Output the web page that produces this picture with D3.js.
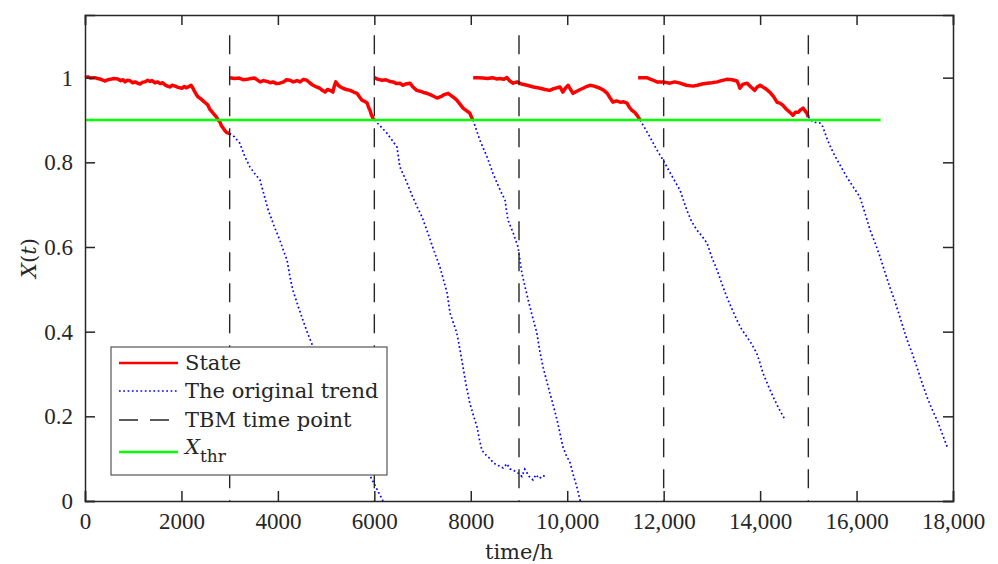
<!DOCTYPE html>
<html>
<head>
<meta charset="utf-8">
<script src="https://cdn.jsdelivr.net/npm/d3@7"></script>
<style>
  body { margin: 0; background: #fff; }
  svg text { fill: #262626; font-family: "Liberation Serif", "Times New Roman", serif; }
</style>
</head>
<body>
<div id="chart"></div>
<script>
// state segments (time in h, X(t))
const state1 = [[0,1.0],[60,1.002],[120,0.999],[200,1.0],[260,0.998],[310,0.997],[370,0.994],[420,0.992],[470,0.995],[520,0.996],[600,0.998],[680,0.997],[740,0.993],[790,0.995],[830,0.99],[880,0.994],[930,0.993],[990,0.988],[1040,0.99],[1090,0.987],[1140,0.985],[1190,0.989],[1240,0.99],[1300,0.994],[1350,0.991],[1390,0.993],[1450,0.988],[1510,0.99],[1560,0.986],[1610,0.988],[1660,0.983],[1710,0.98],[1760,0.978],[1810,0.982],[1870,0.98],[1930,0.977],[2010,0.975],[2060,0.979],[2100,0.976],[2140,0.978],[2200,0.982],[2230,0.977],[2260,0.97],[2300,0.962],[2340,0.955],[2390,0.951],[2450,0.945],[2500,0.94],[2550,0.935],[2590,0.925],[2630,0.92],[2680,0.913],[2720,0.908],[2760,0.9],[2800,0.895],[2830,0.886],[2860,0.882],[2900,0.875],[2940,0.87],[3000,0.868]];
const state2 = [[3000,1.0],[3100,0.998],[3200,0.999],[3280,0.995],[3360,0.996],[3440,0.998],[3520,0.999],[3580,0.994],[3630,0.99],[3700,0.993],[3780,0.991],[3840,0.988],[3900,0.99],[3970,0.986],[4040,0.987],[4120,0.99],[4180,0.995],[4250,0.994],[4320,0.99],[4400,0.993],[4460,0.99],[4530,0.996],[4600,0.994],[4660,0.988],[4730,0.982],[4800,0.978],[4870,0.975],[4920,0.97],[4980,0.966],[5030,0.972],[5080,0.97],[5140,0.966],[5170,0.98],[5200,0.99],[5230,0.986],[5250,0.982],[5300,0.978],[5350,0.975],[5420,0.972],[5500,0.97],[5570,0.966],[5640,0.963],[5690,0.955],[5740,0.947],[5800,0.944],[5850,0.94],[5880,0.93],[5910,0.923],[5940,0.912],[5970,0.904],[6000,0.9]];
const state3 = [[6000,1.0],[6080,0.996],[6160,0.994],[6240,0.995],[6320,0.991],[6390,0.99],[6460,0.986],[6530,0.987],[6590,0.982],[6650,0.985],[6740,0.987],[6800,0.978],[6880,0.97],[6950,0.968],[7020,0.965],[7090,0.963],[7160,0.96],[7230,0.956],[7300,0.952],[7380,0.955],[7450,0.96],[7530,0.963],[7600,0.957],[7660,0.952],[7710,0.947],[7780,0.937],[7840,0.928],[7910,0.922],[7980,0.916],[8010,0.908],[8040,0.9]];
const state4 = [[8050,1.0],[8150,1.0],[8250,0.999],[8350,0.998],[8450,1.0],[8530,0.997],[8610,0.998],[8680,0.996],[8750,1.0],[8810,0.992],[8880,0.987],[8960,0.99],[9050,0.985],[9170,0.982],[9300,0.978],[9440,0.975],[9540,0.972],[9640,0.97],[9720,0.974],[9850,0.978],[9910,0.966],[9960,0.975],[10020,0.982],[10070,0.972],[10120,0.963],[10200,0.968],[10270,0.972],[10330,0.975],[10400,0.979],[10470,0.982],[10560,0.98],[10680,0.975],[10760,0.97],[10830,0.963],[10890,0.952],[10950,0.942],[11020,0.945],[11100,0.942],[11170,0.943],[11240,0.94],[11290,0.93],[11340,0.923],[11400,0.918],[11450,0.911],[11510,0.9]];
const state5 = [[11470,1.0],[11560,1.0],[11650,1.0],[11760,0.995],[11860,0.99],[11990,0.99],[12130,0.987],[12230,0.99],[12340,0.987],[12470,0.982],[12610,0.98],[12700,0.982],[12800,0.985],[12900,0.987],[13000,0.988],[13110,0.99],[13200,0.993],[13310,0.996],[13420,0.995],[13520,0.992],[13550,0.985],[13580,0.975],[13640,0.984],[13730,0.987],[13810,0.978],[13890,0.97],[13940,0.978],[14000,0.982],[14100,0.975],[14200,0.966],[14280,0.955],[14350,0.942],[14410,0.94],[14470,0.935],[14540,0.926],[14620,0.918],[14680,0.911],[14730,0.918],[14790,0.918],[14840,0.924],[14890,0.928],[14930,0.922],[14970,0.916],[15000,0.907]];

// original trend after each state segment
const trend1 = [[3000,0.868],[3100,0.86],[3210,0.845],[3310,0.815],[3420,0.789],[3530,0.772],[3630,0.758],[3720,0.72],[3800,0.687],[3920,0.65],[4040,0.616],[4120,0.59],[4190,0.569],[4250,0.53],[4310,0.498],[4420,0.46],[4520,0.427],[4620,0.395],[4730,0.364],[5080,0.286],[5500,0.168],[5910,0.06],[6180,0]];
const trend2 = [[6000,0.9],[6130,0.885],[6260,0.869],[6370,0.852],[6470,0.836],[6530,0.789],[6680,0.751],[6790,0.72],[6890,0.694],[6990,0.671],[7110,0.633],[7240,0.59],[7360,0.553],[7440,0.52],[7510,0.491],[7570,0.444],[7710,0.397],[7780,0.355],[7840,0.316],[7910,0.27],[7980,0.231],[8060,0.2],[8130,0.175],[8180,0.145],[8230,0.12],[8320,0.108],[8400,0.1],[8470,0.09],[8540,0.085],[8610,0.082],[8670,0.078],[8750,0.088],[8810,0.076],[8890,0.072],[8960,0.068],[9060,0.058],[9120,0.075],[9210,0.058],[9290,0.05],[9350,0.062],[9420,0.053],[9500,0.06],[9580,0.055]];
const trend3 = [[8046,0.9],[8190,0.852],[8340,0.812],[8460,0.774],[8610,0.734],[8710,0.711],[8770,0.664],[8880,0.633],[8980,0.6],[9060,0.538],[9190,0.475],[9280,0.435],[9370,0.397],[9430,0.355],[9500,0.316],[9570,0.285],[9640,0.255],[9720,0.222],[9790,0.191],[9850,0.16],[9910,0.128],[9980,0.108],[10060,0.09],[10130,0.06],[10200,0.033],[10270,0]];
const trend4 = [[11510,0.9],[11690,0.865],[11860,0.829],[11990,0.805],[12160,0.77],[12340,0.734],[12480,0.687],[12580,0.66],[12690,0.64],[12800,0.625],[12900,0.609],[13000,0.575],[13110,0.545],[13210,0.512],[13310,0.482],[13410,0.455],[13520,0.427],[13620,0.405],[13730,0.387],[13830,0.37],[13930,0.349],[14000,0.325],[14060,0.302],[14170,0.272],[14270,0.246],[14390,0.218],[14520,0.191]];
const trend5 = [[15000,0.907],[15100,0.895],[15240,0.893],[15300,0.884],[15400,0.852],[15510,0.824],[15650,0.795],[15800,0.765],[15930,0.742],[16070,0.718],[16180,0.678],[16280,0.64],[16390,0.608],[16490,0.576],[16590,0.54],[16690,0.505],[16800,0.47],[16900,0.434],[16980,0.405],[17050,0.38],[17150,0.35],[17250,0.317],[17350,0.282],[17460,0.246],[17560,0.218],[17670,0.191],[17780,0.158],[17880,0.128]];

const tbmTimes = [3000, 6000, 9000, 12000, 15000];
const tbmTop = 1.1;
const threshold = 0.9;
const thresholdEnd = 16500;

const xTicks = [0, 2000, 4000, 6000, 8000, 10000, 12000, 14000, 16000, 18000];
const yTicks = [0, 0.2, 0.4, 0.6, 0.8, 1];
const legendLabels = ["State", "The original trend", "TBM time point", "X"];

const width = 998, height = 564;
const margin = {left: 85, right: 45, top: 15, bottom: 63};
const serif = "'Liberation Serif', 'Times New Roman', serif";
const wideSerif = "'DejaVu Serif', serif";

const x = d3.scaleLinear().domain([0, 18000]).range([margin.left, width - margin.right]);
const y = d3.scaleLinear().domain([0, 1.148]).range([height - margin.bottom, margin.top]);

const svg = d3.select("#chart").append("svg")
  .attr("width", width)
  .attr("height", height);

const line = d3.line().x(d => x(d[0])).y(d => y(d[1]));

const plot = svg.append("g");

// red state lines
plot.append("g")
  .selectAll("path")
  .data([state1, state2, state3, state4, state5])
  .join("path")
  .attr("fill", "none")
  .attr("stroke", "#ff0000")
  .attr("stroke-width", 3.5)
  .attr("stroke-linejoin", "round")
  .attr("d", line);

// blue dotted trends
plot.append("g")
  .selectAll("path")
  .data([trend1, trend2, trend3, trend4, trend5])
  .join("path")
  .attr("fill", "none")
  .attr("stroke", "#0000ff")
  .attr("stroke-width", 1.7)
  .attr("stroke-dasharray", "1.7,2.6")
  .attr("d", line);

// TBM time points
plot.append("g")
  .selectAll("line")
  .data(tbmTimes)
  .join("line")
  .attr("x1", d => x(d)).attr("x2", d => x(d))
  .attr("y1", y(tbmTop)).attr("y2", y(0))
  .attr("stroke", "#262626")
  .attr("stroke-width", 1.4)
  .attr("stroke-dasharray", "19,12");

// threshold
plot.append("line")
  .attr("x1", x(0)).attr("x2", x(thresholdEnd))
  .attr("y1", y(threshold)).attr("y2", y(threshold))
  .attr("stroke", "#00ff00")
  .attr("stroke-width", 2.5);

// axes: box with inward ticks on every side
const fmt = d => d >= 10000 ? d3.format(",")(d) : String(d);
const tickSize = 10;
const axes = svg.append("g");

axes.append("g")
  .attr("transform", `translate(0,${y(0)})`)
  .call(d3.axisBottom(x).tickValues(xTicks).tickSize(-tickSize).tickPadding(12).tickFormat(fmt));
axes.append("g")
  .attr("transform", `translate(0,${y(1.148)})`)
  .call(d3.axisTop(x).tickValues(xTicks).tickSize(-tickSize).tickFormat(""));
axes.append("g")
  .attr("transform", `translate(${x(0)},0)`)
  .call(d3.axisLeft(y).tickValues(yTicks).tickSize(-tickSize).tickPadding(12).tickFormat(d => String(d)));
axes.append("g")
  .attr("transform", `translate(${x(18000)},0)`)
  .call(d3.axisRight(y).tickValues(yTicks).tickSize(-tickSize).tickFormat(""));

axes.selectAll(".domain, .tick line").attr("stroke", "#262626").attr("stroke-width", 1.5);
axes.selectAll(".tick text")
  .style("font-family", serif)
  .style("font-size", "23px")
  .style("fill", "#262626");

// axis titles
svg.append("text")
  .attr("x", (x(0) + x(18000)) / 2)
  .attr("y", 559)
  .attr("text-anchor", "middle")
  .style("font-family", wideSerif)
  .style("font-size", "21px")
  .text("time/h");

const yl = svg.append("text")
  .attr("transform", `translate(36,${(y(0) + y(1.148)) / 2}) rotate(-90)`)
  .attr("text-anchor", "middle")
  .style("font-family", wideSerif)
  .style("font-size", "21px");
yl.append("tspan").attr("font-style", "italic").text("X");
yl.append("tspan").text("(");
yl.append("tspan").attr("font-style", "italic").text("t");
yl.append("tspan").text(")");

// legend
const legend = svg.append("g").attr("transform", "translate(111,347)");
legend.append("rect")
  .attr("width", 276).attr("height", 128)
  .attr("fill", "#fff")
  .attr("stroke", "#555")
  .attr("stroke-width", 1.2);

const legendStyles = [
  {color: "#ff0000", width: 2.5, dash: null},
  {color: "#0000ff", width: 1.7, dash: "1.7,2.6"},
  {color: "#262626", width: 1.4, dash: "19,12"},
  {color: "#00ff00", width: 2.5, dash: null}
];
const rowY = [16, 44, 73, 105];

const rows = legend.selectAll("g.row")
  .data(legendLabels)
  .join("g")
  .attr("class", "row")
  .attr("transform", (d, i) => `translate(0,${rowY[i]})`);

rows.append("line")
  .attr("x1", 8).attr("x2", 67)
  .attr("stroke", (d, i) => legendStyles[i].color)
  .attr("stroke-width", (d, i) => legendStyles[i].width)
  .attr("stroke-dasharray", (d, i) => legendStyles[i].dash);

rows.append("text")
  .attr("x", 74)
  .attr("dy", "0.35em")
  .style("font-family", wideSerif)
  .style("font-size", "21px")
  .each(function(d, i) {
    const t = d3.select(this);
    if (i === 3) {
      t.attr("dy", "0.1em");
      t.append("tspan").attr("font-style", "italic").text(d);
      t.append("tspan").attr("dy", "0.45em").style("font-size", "17px").text("thr");
    } else {
      t.text(d);
    }
  });
</script>
</body>
</html>
